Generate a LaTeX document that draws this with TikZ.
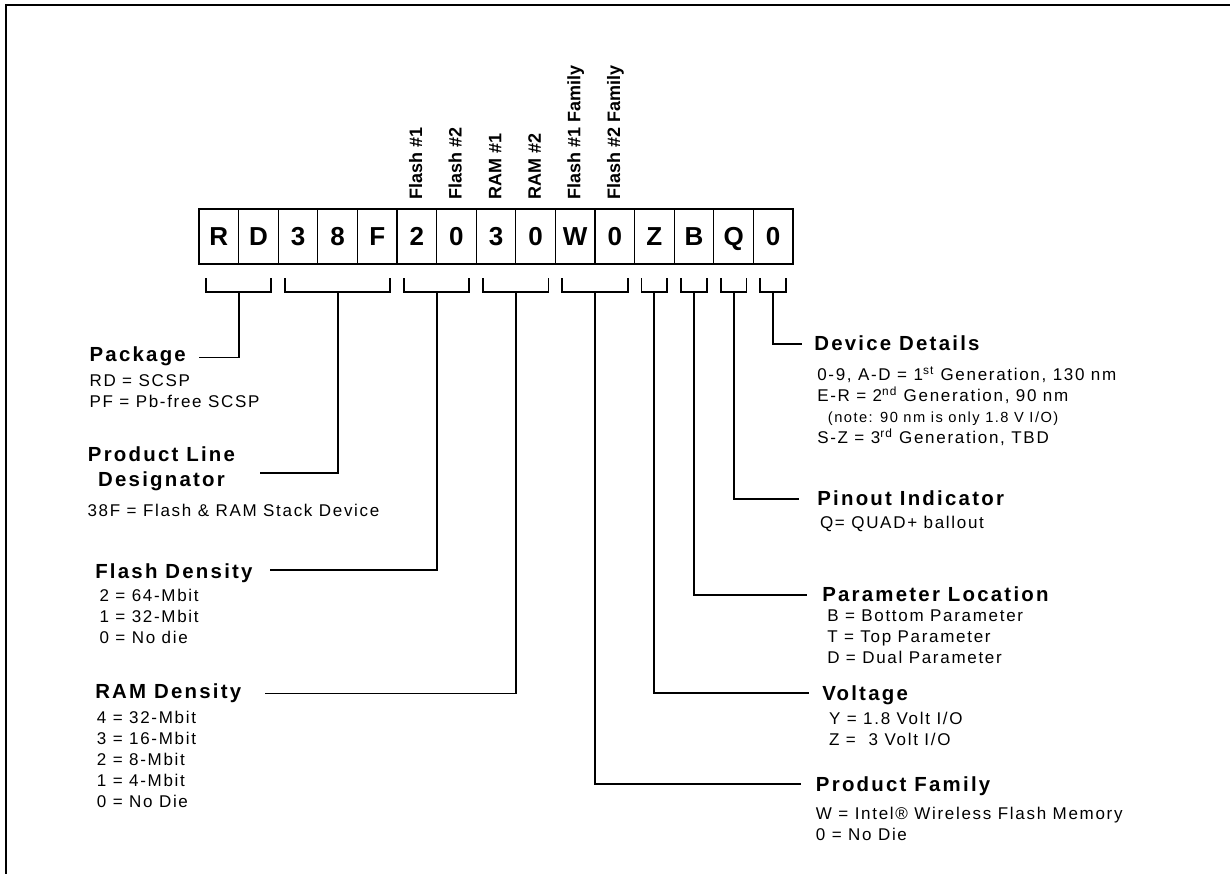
\documentclass[tikz,border=0pt]{standalone}
\usepackage{fontspec}
\setmainfont{Liberation Sans}
\newfontfamily\trackfont[LetterSpace=10]{Liberation Sans}
\newfontfamily\headfont[LetterSpace=11]{Liberation Sans}
\usetikzlibrary{calc}
\newcommand{\lines}[2][l]{\begin{tabular}[t]{@{}#1@{}}#2\end{tabular}}

\begin{document}
\begin{tikzpicture}[x = 0.75pt, y = -0.75pt,
  digit/.style = {draw, line width = 0.8pt, minimum width = 29.7pt, minimum height = 41.25pt, inner sep = 0pt, text height = 14pt, text depth = 0pt, font = \fontsize{19.5}{20}\selectfont\bfseries},
  vlabel/.style = {rotate = 90, anchor = mid west, inner sep = 0pt, font = \fontsize{13.5}{14}\selectfont\bfseries},
  head/.style = {anchor = base west, inner sep = 0pt, font = \headfont\fontsize{15.3}{19.3}\selectfont\bfseries},
  body/.style = {anchor = base west, inner sep = 0pt, font = \trackfont\fontsize{12.75}{15.75}\selectfont},
  brk/.style = {line width = 1.4pt}]
\def\boxW{39.6}
\def\rowY{236.5}

% frame
\useasboundingbox (0, 0) rectangle (1230, 874);
\draw [line width = 1.5pt] (1230, 5.5) -- (5.5, 5.5) -- (5.5, 874);

% part number boxes
\foreach \ch [count = \i] in {R,D,3,8,F,2,0,3,0,W,0,Z,B,Q,0}
  \node [digit] (b\i) at ({199 + \boxW*(\i - 0.5)}, \rowY) {\ch};

% die labels
\foreach \i/\t in {6/Flash \#1, 7/Flash \#2, 8/RAM \#1, 9/RAM \#2, 10/Flash \#1 Family, 11/Flash \#2 Family}
  \node [vlabel] (v\i) at ([xshift = 1.3pt, yshift = 6.2pt]b\i.north) {\t};

% brackets
\foreach \a/\b/\n in {1/2/pk, 3/5/pl, 6/7/fd, 8/9/rd, 10/11/pf, 12/12/vo, 13/13/lo, 14/14/pi, 15/15/dd} {
  \draw [brk] ([xshift = 5.6pt, yshift = -10.3pt]b\a.south west) -- ++(0, 14) -| ([xshift = -5.6pt, yshift = -10.3pt]b\b.south east);
  \coordinate (s\n) at ($(b\a.south west)!0.5!(b\b.south east) + (0, 27.7)$);
}

% left side
\node [head] (pkg) at (89.3, 361.7) {Package};
\node [body] (pkgtxt) at (89.3, 386) {\lines{RD = SCSP\\PF = Pb-free SCSP}};
\node [head, anchor = base] (pld) at (161.5, 461) {\lines[c]{Product Line\\Designator}};
\node [body] (pldtxt) at (87.3, 516) {38F = Flash \& RAM Stack Device};
\node [head] (fden) at (95, 578.3) {Flash Density};
\node [body] (fdentxt) at (99.3, 601.7) {\lines{2 = 64-Mbit\\1 = 32-Mbit\\0 = No die}};
\node [head] (rden) at (95, 698.3) {RAM Density};
\node [body] (rdentxt) at (96.7, 723.3) {\lines{4 = 32-Mbit\\3 = 16-Mbit\\2 = 8-Mbit\\1 = 4-Mbit\\0 = No Die}};

% right side
\node [head] (ddet) at (814, 350) {Device Details};
\node [body] (ddettxt) at (817, 380.7) {\lines{0-9, A-D = 1\textsuperscript{st} Generation, 130 nm\\E-R = 2\textsuperscript{nd} Generation, 90 nm\\\hspace*{8pt}{\fontsize{11}{15.75}\selectfont (note: 90 nm is only 1.8 V I/O)}\\S-Z = 3\textsuperscript{rd} Generation, TBD}};
\node [head] (pin) at (817, 505) {Pinout Indicator};
\node [body] (pintxt) at (819.8, 528.3) {Q= QUAD+ ballout};
\node [head] (ploc) at (822, 601.7) {Parameter Location};
\node [body] (ploctxt) at (827, 621) {\lines{B = Bottom Parameter\\T = Top Parameter\\D = Dual Parameter}};
\node [head] (volt) at (822, 700) {Voltage};
\node [body] (volttxt) at (828.8, 724.3) {\lines{Y = 1.8 Volt I/O\\Z = \ 3 Volt I/O}};
\node [head] (pfam) at (815.7, 791) {Product Family};
\node [body] (pfamtxt) at (815.7, 819.3) {\lines{W = Intel® Wireless Flash Memory\\0 = No Die}};

% connectors
\draw [brk] (spk) |- ([xshift = 9.5pt, yshift = 0.5pt]pkg.mid east);
\draw [brk] (spl) |- ([xshift = 18.4pt, yshift = -9.2pt]pld.base east);
\draw [brk] (sfd) |- ([xshift = 12.5pt, yshift = 3.5pt]fden.mid east);
\draw [brk] (srd) |- ([xshift = 17.5pt, yshift = 1pt]rden.mid east);
\draw [brk] (spf) |- ([xshift = -11pt, yshift = 2.3pt]pfam.mid west);
\draw [brk] (svo) |- ([xshift = -10pt, yshift = 2.3pt]volt.mid west);
\draw [brk] (slo) |- ([xshift = -11.5pt, yshift = 2.4pt]ploc.mid west);
\draw [brk] (spi) |- ([xshift = -13.3pt, yshift = 1.9pt]pin.mid west);
\draw [brk] (sdd) |- ([xshift = -9.3pt, yshift = 2.1pt]ddet.mid west);
\end{tikzpicture}
\end{document}
